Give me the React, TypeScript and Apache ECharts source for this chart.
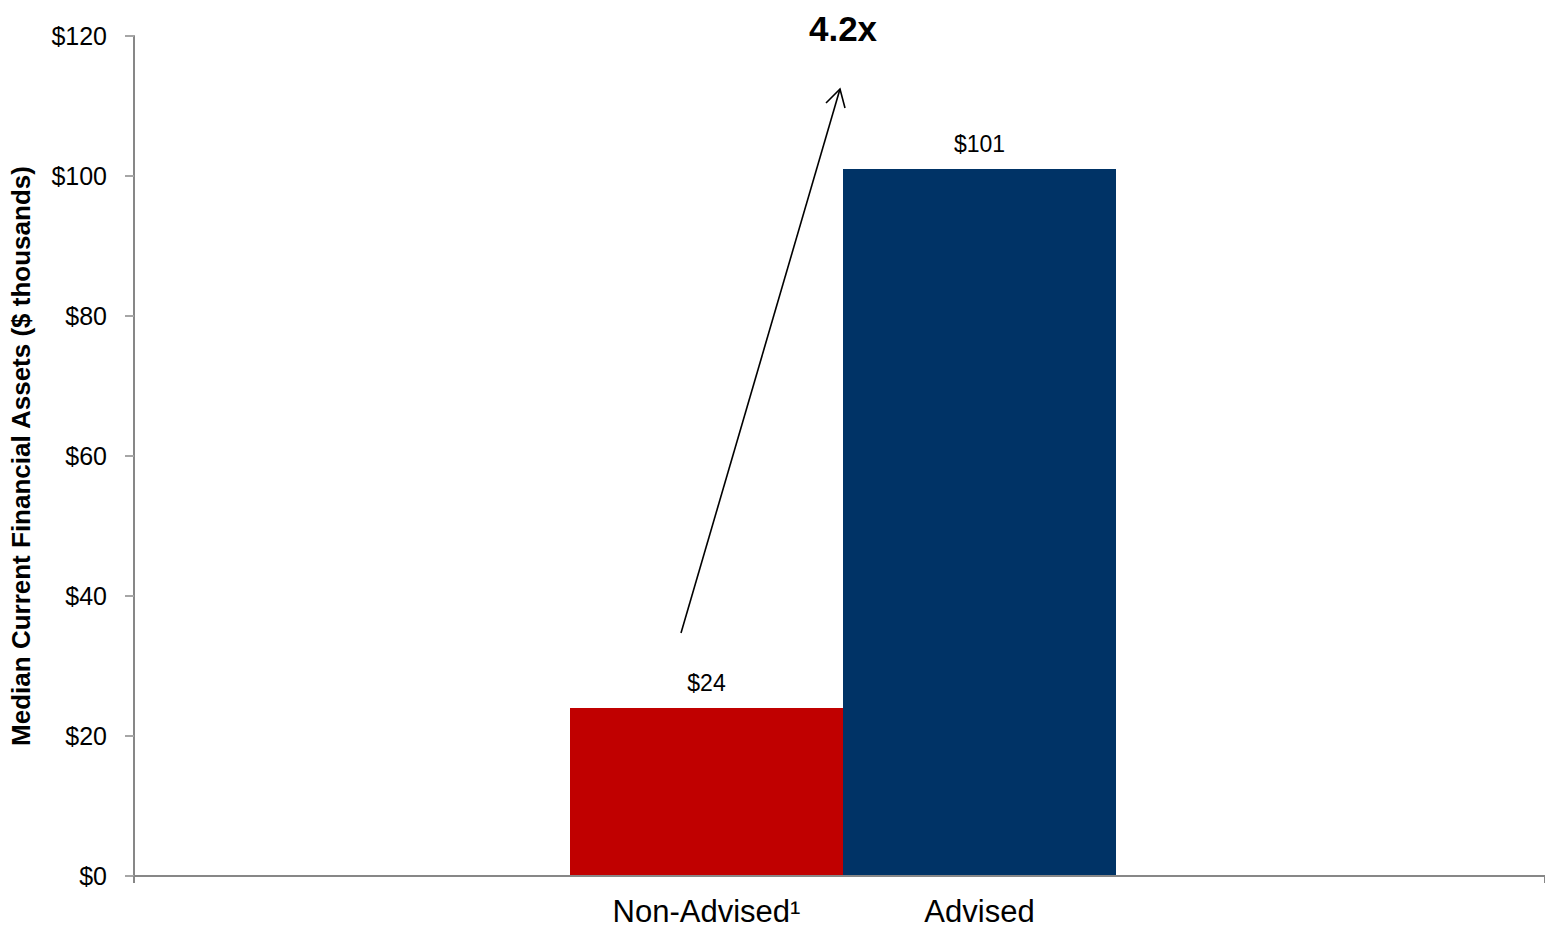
import React, { useEffect, useRef } from "react";
import * as echarts from "echarts";

// Median current financial assets by advice status ($ thousands)
const categories: string[] = ["Non-Advised¹", "Advised"];
const assetValues: number[] = [24, 101];
const barColors: string[] = ["#C00000", "#003366"];
const yTicks = { min: 0, max: 120, interval: 20 };
const multipleLabel = "4.2x";
const yAxisTitle = "Median Current Financial Assets ($ thousands)";

const FONT = "'Liberation Sans', Arial, Helvetica, sans-serif";
const AXIS_GRAY = "#878787";

export default function App() {
  const ref = useRef<HTMLDivElement>(null);

  useEffect(() => {
    if (!ref.current) return;
    const chart = echarts.init(ref.current, null, { renderer: "svg" });

    chart.setOption({
      animation: false,
      backgroundColor: "#ffffff",
      textStyle: { fontFamily: FONT },
      grid: [
        { left: 130, right: 0, top: 36, bottom: 53, containLabel: false },
        { left: 570, width: 546, top: 36, bottom: 53, containLabel: false },
      ],
      xAxis: [
        {
          type: "category",
          gridIndex: 0,
          data: [""],
          z: 5,
          axisLine: { show: true, lineStyle: { color: AXIS_GRAY, width: 2 } },
          axisTick: { show: true, length: 7, lineStyle: { color: AXIS_GRAY, width: 2 } },
          axisLabel: { show: false },
          splitLine: { show: false },
        },
        {
          type: "category",
          gridIndex: 1,
          data: categories,
          axisLine: { show: false },
          axisTick: { show: false },
          axisLabel: {
            show: true,
            fontSize: 31,
            color: "#000000",
            fontFamily: FONT,
            margin: 20,
          },
          splitLine: { show: false },
        },
      ],
      yAxis: [
        {
          type: "value",
          gridIndex: 0,
          min: yTicks.min,
          max: yTicks.max,
          interval: yTicks.interval,
          z: 5,
          name: yAxisTitle,
          nameLocation: "middle",
          nameGap: 100,
          nameRotate: 90,
          nameTextStyle: {
            fontSize: 26,
            fontWeight: "bold",
            color: "#000000",
            fontFamily: FONT,
          },
          axisLine: { show: true, lineStyle: { color: AXIS_GRAY, width: 2 } },
          axisTick: {
            show: true,
            inside: false,
            length: 9,
            lineStyle: { color: "#a6a6a6", width: 2 },
          },
          axisLabel: {
            fontSize: 25,
            color: "#000000",
            fontFamily: FONT,
            margin: 27,
            formatter: (v: number) => `$${v}`,
          },
          splitLine: { show: false },
        },
        {
          type: "value",
          gridIndex: 1,
          min: yTicks.min,
          max: yTicks.max,
          interval: yTicks.interval,
          show: false,
          splitLine: { show: false },
        },
      ],
      series: [
        {
          type: "bar",
          xAxisIndex: 1,
          yAxisIndex: 1,
          barCategoryGap: "0%",
          data: assetValues.map((v, i) => ({
            value: v,
            itemStyle: { color: barColors[i] },
          })),
          label: {
            show: true,
            position: "top",
            distance: 14,
            fontSize: 23,
            color: "#000000",
            fontFamily: FONT,
            formatter: (p: any) => `$${p.value}`,
          },
        },
      ],
      graphic: [
        {
          type: "line",
          shape: { x1: 681, y1: 633, x2: 840, y2: 89 },
          style: { stroke: "#000000", lineWidth: 1.6 },
        },
        {
          type: "polyline",
          shape: { points: [[826, 103], [840, 89], [845, 108]] },
          style: { stroke: "#000000", lineWidth: 1.6, fill: "none" },
        },
        {
          type: "text",
          x: 843,
          y: 28,
          style: {
            text: multipleLabel,
            fontSize: 35,
            fontWeight: "bold",
            fill: "#000000",
            fontFamily: FONT,
            textAlign: "center",
            textVerticalAlign: "middle",
          },
        },
      ],
    });

    return () => chart.dispose();
  }, []);

  return (
    <div
      ref={ref}
      style={{ position: "absolute", left: 0, top: 0, width: 1545, height: 929 }}
    />
  );
}
